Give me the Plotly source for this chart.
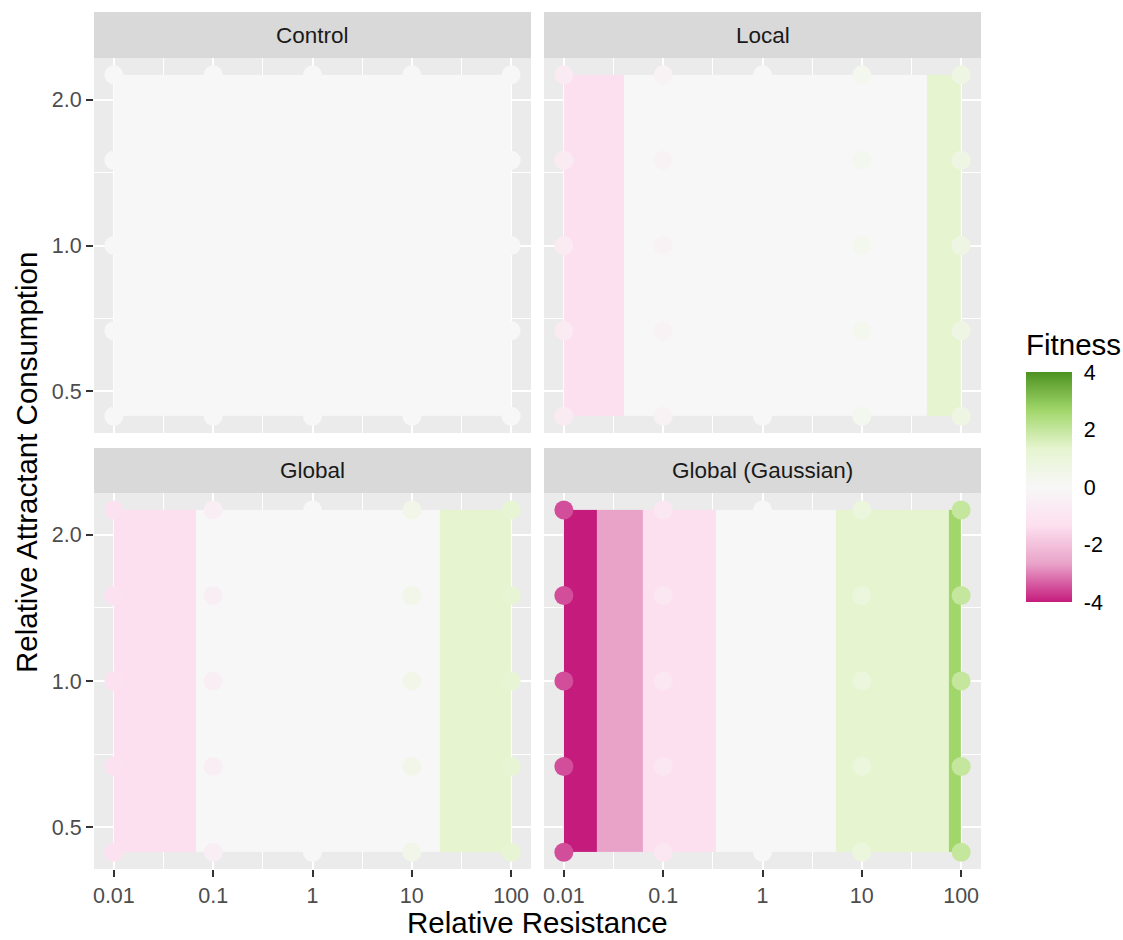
import plotly.graph_objects as go

# Sampled grid of the parameter sweep
resistance = [0.01, 0.1, 1, 10, 100]
consumption = [0.444, 0.667, 1.0, 1.5, 2.25]

panels = ["Control", "Local", "Global", "Global (Gaussian)"]

# Fitness at each sampled resistance (identical for every consumption level)
point_fitness = {
    "Control": [0.0, 0.0, 0.0, 0.0, 0.0],
    "Local": [-0.7, -0.3, 0.0, 0.3, 0.7],
    "Global": [-1.2, -0.5, 0.0, 0.5, 1.2],
    "Global (Gaussian)": [-3.5, -0.9, 0.0, 0.9, 2.0],
}

# Interpolated fitness surface, binned into vertical bands
band_edges = {
    "Control": [0.01, 100],
    "Local": [0.01, 0.04, 45, 100],
    "Global": [0.01, 0.067, 19, 100],
    "Global (Gaussian)": [0.01, 0.0217, 0.063, 0.34, 5.5, 76, 100],
}
band_levels = {
    "Control": [0.0],
    "Local": [-1.333, 0.0, 1.333],
    "Global": [-1.333, 0.0, 1.333],
    "Global (Gaussian)": [-4.0, -2.667, -1.333, 0.0, 1.333, 2.667],
}

x_ticks = [0.01, 0.1, 1, 10, 100]
x_tick_text = ["0.01", "0.1", "1", "10", "100"]
y_ticks = [0.5, 1.0, 2.0]
y_tick_text = ["0.5", "1.0", "2.0"]
fitness_ticks = [-4, -2, 0, 2, 4]

piyg = [
    [0.0, "#C51B7D"], [1 / 6, "#E9A3C9"], [2 / 6, "#FDE0EF"], [0.5, "#F7F7F7"],
    [4 / 6, "#E6F5D0"], [5 / 6, "#A1D76A"], [1.0, "#4D9221"],
]

W, H = 1123, 940
FONT = "Liberation Sans, Arial, sans-serif"
TITLE_SIZE = 29.5
TICK_SIZE = 21.5
STRIP_SIZE = 22.5

# panel boxes in pixels: (left, right, top, bottom)
col_px = [(94, 531), (544, 981)]
row_px = [(58, 433), (493, 869)]
strip_px = [(12, 58), (448, 493)]

fig = go.Figure()
layout_axes = {}
shapes = []
annotations = []

for i, name in enumerate(panels):
    r, c = divmod(i, 2)
    sfx = "" if i == 0 else str(i + 1)
    xref, yref = "x" + sfx, "y" + sfx

    fig.add_trace(go.Heatmap(
        x=band_edges[name], y=[consumption[0], consumption[-1]],
        z=[band_levels[name]], coloraxis="coloraxis",
        xaxis=xref, yaxis=yref, hoverinfo="skip",
    ))
    xs, ys, zs = [], [], []
    for yv in consumption:
        for xv, fv in zip(resistance, point_fitness[name]):
            xs.append(xv)
            ys.append(yv)
            zs.append(fv)
    fig.add_trace(go.Scatter(
        x=xs, y=ys, mode="markers", xaxis=xref, yaxis=yref,
        marker=dict(size=19, color=zs, coloraxis="coloraxis", line=dict(width=0)),
        showlegend=False,
    ))

    l, rr = col_px[c]
    t, b = row_px[r]
    common = dict(
        type="log", showgrid=True, gridcolor="white", gridwidth=2.4,
        zeroline=False, showline=False, tickmode="array",
        tickfont=dict(family=FONT, size=TICK_SIZE, color="#4D4D4D"),
        tickcolor="#333333", tickwidth=1.6, ticklen=7,
    )
    layout_axes["xaxis" + sfx] = dict(
        common, domain=[l / W, rr / W], anchor=yref, range=[-2.2, 2.2],
        tickvals=x_ticks, ticktext=x_tick_text,
        ticks="outside" if r == 1 else "", showticklabels=(r == 1),
        minor=dict(tickvals=[0.0316, 0.316, 3.16, 31.6], showgrid=True,
                   gridcolor="white", gridwidth=1.2, ticks=""),
    )
    layout_axes["yaxis" + sfx] = dict(
        common, domain=[(H - b) / H, (H - t) / H], anchor=xref,
        range=[-0.387, 0.387], tickvals=y_ticks, ticktext=y_tick_text,
        ticks="outside" if c == 0 else "", showticklabels=(c == 0),
        minor=dict(tickvals=[0.7071, 1.4142], showgrid=True,
                   gridcolor="white", gridwidth=1.2, ticks=""),
    )

    st, sb = strip_px[r]
    shapes.append(dict(type="rect", xref="paper", yref="paper",
                       x0=l / W, x1=rr / W, y0=(H - sb) / H, y1=(H - st) / H,
                       fillcolor="#D9D9D9", line=dict(width=0), layer="below"))
    annotations.append(dict(text=name, xref="paper", yref="paper",
                            x=(l + rr) / 2 / W, y=(H - (st + sb) / 2) / H,
                            xanchor="center", yanchor="middle", showarrow=False,
                            font=dict(family=FONT, size=STRIP_SIZE, color="#1A1A1A")))

annotations += [
    dict(text="Relative Resistance", xref="paper", yref="paper",
         x=537.5 / W, y=(H - 922) / H, xanchor="center", yanchor="middle",
         showarrow=False, font=dict(family=FONT, size=TITLE_SIZE, color="black")),
    dict(text="Relative Attractant Consumption", xref="paper", yref="paper",
         x=26 / W, y=(H - 463) / H, xanchor="center", yanchor="middle",
         textangle=-90, showarrow=False,
         font=dict(family=FONT, size=TITLE_SIZE, color="black")),
    dict(text="Fitness", xref="paper", yref="paper",
         x=1024 / W, y=(H - 344) / H, xanchor="left", yanchor="middle",
         showarrow=False, font=dict(family=FONT, size=TITLE_SIZE, color="black")),
]

fig.update_layout(
    width=W, height=H, margin=dict(l=0, r=0, t=0, b=0),
    paper_bgcolor="white", plot_bgcolor="#EBEBEB",
    showlegend=False, shapes=shapes, annotations=annotations,
    coloraxis=dict(
        colorscale=piyg, cmin=-4, cmax=4,
        colorbar=dict(
            x=1026 / W, xanchor="left", xpad=0, ypad=0,
            y=(H - 487) / H, yanchor="middle",
            thickness=46, thicknessmode="pixels", len=230, lenmode="pixels",
            outlinewidth=0, tickmode="array", tickvals=fitness_ticks,
            ticktext=[str(v) for v in fitness_ticks],
            ticks="outside", ticklen=8, tickcolor="rgba(255,255,255,0)",
            tickfont=dict(family=FONT, size=TICK_SIZE, color="black"),
        ),
    ),
    **layout_axes,
)

fig.write_html("out.html")
